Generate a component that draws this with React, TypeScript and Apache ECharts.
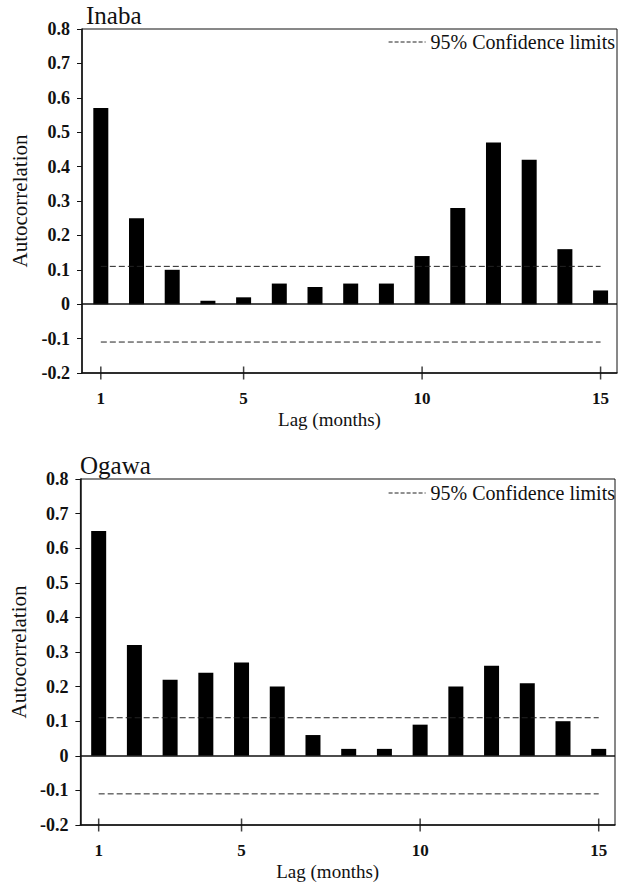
import React, { useEffect, useRef } from "react";
import * as echarts from "echarts";

const lags = [1, 2, 3, 4, 5, 6, 7, 8, 9, 10, 11, 12, 13, 14, 15];
const inabaAcf = [0.57, 0.25, 0.1, 0.01, 0.02, 0.06, 0.05, 0.06, 0.06, 0.14, 0.28, 0.47, 0.42, 0.16, 0.04];
const ogawaAcf = [0.65, 0.32, 0.22, 0.24, 0.27, 0.2, 0.06, 0.02, 0.02, 0.09, 0.2, 0.26, 0.21, 0.1, 0.02];
const confLimit = 0.11;
const confLagRange = [1, 15];
const xTickValues = [1, 5, 10, 15];
const yRange = [-0.2, 0.8];
const panelTitles = ["Inaba", "Ogawa"];
const legendName = "95% Confidence limits";

const FONT = "Liberation Serif";
const INK = "#111";

export default function App() {
  const ref = useRef<HTMLDivElement>(null);

  useEffect(() => {
    if (!ref.current) return;
    const chart = echarts.init(ref.current, undefined, { renderer: "svg" });

    const grids = [
      { left: 82, top: 29, width: 535, height: 344, xMin: 0.473, xMax: 15.46, legendTop: 32, titleLeft: 86, titleTop: 3 },
      { left: 80, top: 479, width: 535, height: 346, xMin: 0.488, xMax: 15.456, legendTop: 483, titleLeft: 80, titleTop: 453 },
    ];
    const datasets = [inabaAcf, ogawaAcf];

    const xAxes: any[] = [];
    const yAxes: any[] = [];
    const series: any[] = [];

    grids.forEach((g, i) => {
      xAxes.push({
        gridIndex: i,
        type: "value",
        min: g.xMin,
        max: g.xMax,
        position: "bottom",
        axisLine: { show: true, onZero: false, lineStyle: { color: INK, width: 1.5 } },
        axisTick: { show: false },
        axisLabel: {
          customValues: xTickValues,
          fontFamily: FONT,
          fontWeight: "bold",
          fontSize: 17,
          color: INK,
          margin: 17,
        },
        splitLine: { show: false },
        name: "Lag (months)",
        nameLocation: "middle",
        nameGap: 37,
        nameTextStyle: { fontFamily: FONT, fontSize: 19, color: INK, padding: [0, 40, 0, 0] },
      });
      yAxes.push({
        gridIndex: i,
        type: "value",
        min: yRange[0],
        max: yRange[1],
        interval: 0.1,
        axisLine: { show: true, onZero: false, lineStyle: { color: INK, width: 1.5 } },
        axisTick: { show: true, length: 5, lineStyle: { color: INK, width: 1 } },
        axisLabel: {
          fontFamily: FONT,
          fontWeight: "bold",
          fontSize: 18,
          color: INK,
          margin: 12,
          formatter: (v: number) => (Math.abs(v) < 1e-9 ? "0" : v.toFixed(1)),
        },
        splitLine: { show: false },
        name: "Autocorrelation",
        nameLocation: "middle",
        nameGap: 50,
        nameTextStyle: { fontFamily: FONT, fontSize: 21, color: INK },
      });

      const values = datasets[i];
      series.push({
        type: "bar",
        xAxisIndex: i,
        yAxisIndex: i,
        data: lags.map((l, k) => [l, values[k]]),
        barWidth: 15,
        itemStyle: { color: "#000" },
        markLine: {
          silent: true,
          symbol: ["none", "none"],
          label: { show: false },
          lineStyle: { color: INK, type: "solid", width: 1.5 },
          data: [{ yAxis: 0 }],
        },
      });
      // crossing tick marks on the x axis at the labelled lags
      series.push({
        type: "scatter",
        xAxisIndex: i,
        yAxisIndex: i,
        data: xTickValues.map((v) => [v, yRange[0]]),
        symbol: "rect",
        symbolSize: [1.5, 13],
        itemStyle: { color: INK },
        silent: true,
        clip: false,
        z: 5,
      });
      [confLimit, -confLimit].forEach((c) => {
        series.push({
          name: legendName,
          type: "line",
          xAxisIndex: i,
          yAxisIndex: i,
          data: confLagRange.map((l) => [l, c]),
          symbol: "none",
          showSymbol: false,
          lineStyle: { color: "#222", width: 1, type: [6, 3] },
          itemStyle: { color: "#222" },
        });
      });
    });

    chart.setOption({
      animation: false,
      backgroundColor: "#fff",
      title: grids.map((g, i) => ({
        text: panelTitles[i],
        left: g.titleLeft,
        top: g.titleTop,
        padding: 0,
        textStyle: { fontFamily: FONT, fontSize: 25, fontWeight: "normal", color: INK },
      })),
      legend: grids.map((g) => ({
        data: [legendName],
        right: 5,
        top: g.legendTop,
        padding: 0,
        itemWidth: 37,
        itemHeight: 14,
        selectedMode: false,
        itemStyle: { opacity: 0, color: "transparent", borderWidth: 0 },
        lineStyle: { type: [4, 2], width: 1, color: "#222" },
        textStyle: { fontFamily: FONT, fontSize: 20, color: INK },
      })),
      grid: grids.map((g) => ({
        left: g.left,
        top: g.top,
        width: g.width,
        height: g.height,
        show: true,
        borderColor: INK,
        borderWidth: 1,
        backgroundColor: "transparent",
      })),
      xAxis: xAxes,
      yAxis: yAxes,
      series,
    });

    return () => chart.dispose();
  }, []);

  return (
    <div
      ref={ref}
      style={{ position: "fixed", left: 0, top: 0, width: 620, height: 892, background: "#fff" }}
    />
  );
}
